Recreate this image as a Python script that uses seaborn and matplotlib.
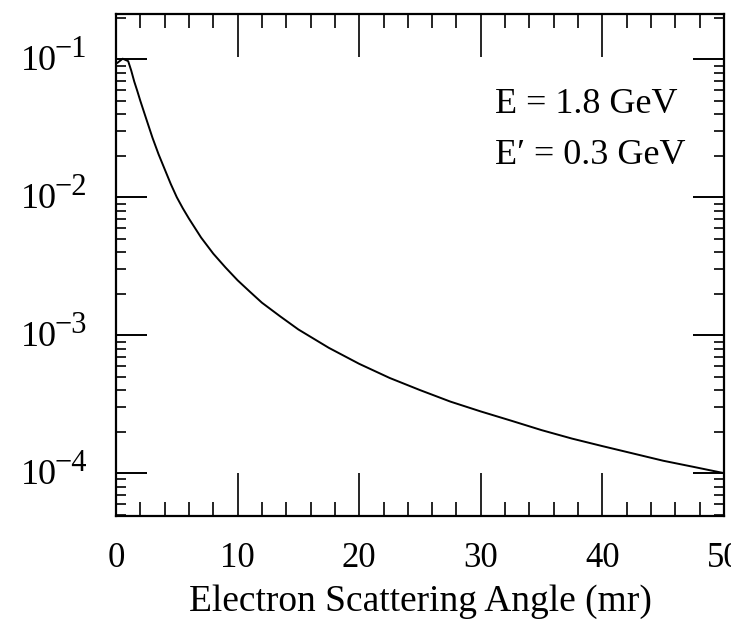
import matplotlib
matplotlib.use("Agg")
import matplotlib.pyplot as plt
import matplotlib.ticker as mticker
import seaborn as sns
import pandas as pd
import numpy as np

# ---- data ----
angle_mr = [0.1, 0.55, 1.0, 1.25, 1.5, 1.75, 2.0, 2.5, 3.0, 3.5, 4.0, 4.5,
            5.0, 5.5, 6.0, 7.0, 8.0, 9.0, 10.0, 11.0, 12.0, 13.5, 15.0,
            17.5, 20.0, 22.5, 25.0, 27.5, 30.0, 32.5, 35.0, 37.5, 40.0,
            42.5, 45.0, 47.5, 50.0]
value = [0.094, 0.101, 0.097, 0.083, 0.069, 0.059, 0.050, 0.0367, 0.027,
         0.0205, 0.0160, 0.0125, 0.0100, 0.0083, 0.0070, 0.0051, 0.0039,
         0.0031, 0.0025, 0.00207, 0.00172, 0.00137, 0.00110, 0.00081,
         0.00062, 0.00049, 0.00040, 0.00033, 0.00028, 0.00024, 0.000205,
         0.000178, 0.000157, 0.000139, 0.000123, 0.000111, 0.000100]
x_ticks = [0, 10, 20, 30, 40, 50]
x_ticklabels = ["0", "10", "20", "30", "40", "50"]
y_ticks = [1e-1, 1e-2, 1e-3, 1e-4]
y_exponents = ["\u22121", "\u22122", "\u22123", "\u22124"]
x_label = "Electron Scattering Angle (mr)"
annot_lines = ["E = 1.8 GeV", "E\u2032 = 0.3 GeV"]

df = pd.DataFrame({"angle": angle_mr, "value": value})

sns.set_style("ticks")
plt.rcParams["font.family"] = ["Liberation Serif", "DejaVu Serif"]
for k in ["text.color", "axes.labelcolor", "xtick.color", "ytick.color",
          "axes.edgecolor"]:
    plt.rcParams[k] = "black"

fig = plt.figure(figsize=(7.31, 6.2), dpi=100)
ax = fig.add_axes([116 / 731, 1 - 516 / 620, (724 - 116) / 731, (516 - 14) / 620])

sns.lineplot(data=df, x="angle", y="value", ax=ax, color="black", lw=1.4)
ax.set_yscale("log")
ax.set_xlim(0, 50)
ax.set_ylim(4.89e-5, 0.213)

for s in ax.spines.values():
    s.set_linewidth(1.6)
    s.set_color("black")
    s.set_visible(True)

ax.set_xticks(x_ticks)
ax.set_xticklabels(x_ticklabels, fontsize=25)
ax.xaxis.set_minor_locator(mticker.MultipleLocator(2))
ax.tick_params(axis="x", which="major", direction="in", length=31, width=1.2,
               top=True, bottom=True, pad=19)
ax.tick_params(axis="x", which="minor", direction="in", length=10, width=1.2,
               top=True, bottom=True)

ax.set_yticks(y_ticks)
ax.yaxis.set_minor_locator(mticker.LogLocator(base=10, subs=np.arange(2, 10)))
ax.yaxis.set_minor_formatter(mticker.NullFormatter())
ax.set_yticklabels([])
ax.tick_params(axis="y", which="major", direction="in", length=22, width=1.4,
               left=True, right=True)
ax.tick_params(axis="y", which="minor", direction="in", length=7, width=1.2,
               left=True, right=True)

# y tick labels: "10" with a large raised exponent
for v, ex in zip(y_ticks, y_exponents):
    ax.annotate("10", xy=(0, v), xycoords=("axes fraction", "data"),
                xytext=(-95 * 0.72, -2.5 * 0.72), textcoords="offset points",
                ha="left", va="center", fontsize=26)
    ax.annotate(ex, xy=(0, v), xycoords=("axes fraction", "data"),
                xytext=(-61 * 0.72, 10 * 0.72), textcoords="offset points",
                ha="left", va="center", fontsize=22)

ax.set_xlabel(x_label, fontsize=27)
ax.xaxis.label.set_va("baseline")
ax.xaxis.set_label_coords(0.5, (516 - 611) / 502)
ax.set_ylabel("")

ax.text(0.623, 0.820, annot_lines[0], transform=ax.transAxes, fontsize=26,
        ha="left", va="center")
ax.text(0.623, 0.719, annot_lines[1], transform=ax.transAxes, fontsize=26,
        ha="left", va="center")

fig.savefig("out.png", dpi=100)
